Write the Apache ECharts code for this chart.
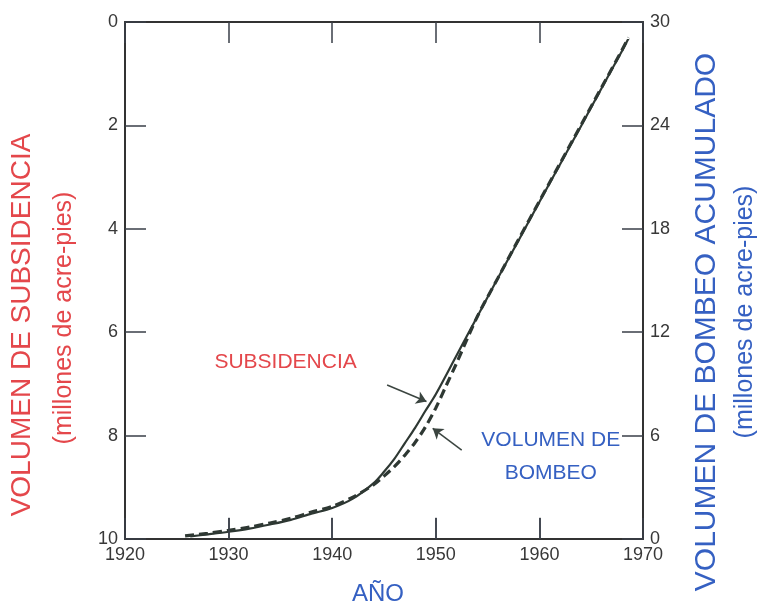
<!DOCTYPE html>
<html>
<head>
<meta charset="utf-8">
<script src="https://cdn.jsdelivr.net/npm/echarts@6/dist/echarts.min.js"></script>
<style>
  html, body { margin: 0; padding: 0; background: #fff; }
  #chart { width: 760px; height: 609px; }
</style>
</head>
<body>
<div id="chart"></div>
<script>
// años (eje X)
var xTicks = [1920, 1930, 1940, 1950, 1960, 1970];
var leftTicks = [0, 2, 4, 6, 8, 10];
var rightTicks = [0, 6, 12, 18, 24, 30];

// subsidencia (millones de acre-pies, eje izquierdo invertido)
var subsYears = [1926.3, 1928, 1930, 1932, 1934, 1936, 1938, 1940, 1942, 1944, 1945, 1946, 1947, 1948, 1949, 1950, 1952, 1954, 1956, 1958, 1960, 1962, 1964, 1966, 1968, 1968.6];
var subsValues = [9.95, 9.91, 9.86, 9.8, 9.72, 9.63, 9.51, 9.4, 9.22, 8.92, 8.7, 8.45, 8.15, 7.85, 7.52, 7.2, 6.45, 5.7, 4.95, 4.22, 3.48, 2.75, 2.02, 1.28, 0.55, 0.32];

// bombeo acumulado (millones de acre-pies, eje derecho)
var pumpYears = [1925.8, 1928, 1930, 1932, 1934, 1936, 1938, 1940, 1942, 1944, 1945, 1946, 1947, 1948, 1949, 1950, 1951, 1952, 1954, 1956, 1958, 1960, 1962, 1964, 1966, 1968, 1968.6];
var pumpValues = [0.18, 0.33, 0.5, 0.69, 0.93, 1.2, 1.56, 1.89, 2.43, 3.15, 3.65, 4.2, 4.85, 5.6, 6.5, 7.6, 8.9, 10.2, 12.9, 15.15, 17.4, 19.6, 21.8, 24.0, 26.2, 28.4, 29.1];

var RED = '#e4474b';
var BLUE = '#3560c2';
var INK = '#2e3833';
var FONT = 'Liberation Sans';

function pairs(xs, ys) {
  return xs.map(function (x, i) { return [x, ys[i]]; });
}

var chart = echarts.init(document.getElementById('chart'));

function ticks() {
  return { show: true, inside: true, length: 21, lineStyle: { color: '#3a3f48', width: 1.5 } };
}
function axisLine() {
  return { show: true, onZero: false, lineStyle: { color: '#333', width: 2 } };
}
function labels(extra) {
  return Object.assign({ color: '#383838', fontSize: 18, fontFamily: FONT, margin: 7 }, extra || {});
}

// marcas interiores del eje inferior (no se dibujan con axisTick aquí)
var bottomTickLines = xTicks.slice(1, -1).map(function (yr) {
  return [
    { coord: [yr, 10], symbol: 'none', lineStyle: { color: '#3a3f48', width: 1.5, type: 'solid' } },
    { coord: [yr, 9.59], symbol: 'none' }
  ];
});

var option = {
  animation: false,
  backgroundColor: '#fff',
  grid: { left: 125, right: 117, top: 22, bottom: 70 },
  xAxis: [
    {
      type: 'value', min: 1920, max: 1970, interval: 10, position: 'top',
      axisLine: axisLine(), axisTick: ticks(), splitLine: { show: false },
      axisLabel: { show: false }
    },
    {
      type: 'value', min: 1920, max: 1970, interval: 10, position: 'bottom',
      axisLine: axisLine(), axisTick: ticks(), splitLine: { show: false },
      axisLabel: labels({ formatter: function (v) { return String(v); } })
    }
  ],
  yAxis: [
    {
      type: 'value', min: 0, max: 10, interval: 2, inverse: true, position: 'left',
      axisLine: axisLine(), axisTick: ticks(), splitLine: { show: false },
      axisLabel: labels()
    },
    {
      type: 'value', min: 0, max: 30, interval: 6, position: 'right',
      axisLine: axisLine(), axisTick: ticks(), splitLine: { show: false },
      axisLabel: labels()
    }
  ],
  series: [
    {
      name: 'SUBSIDENCIA',
      type: 'line', xAxisIndex: 1, yAxisIndex: 0,
      smooth: 0.3, showSymbol: false,
      lineStyle: { color: INK, width: 2.2 },
      data: pairs(subsYears, subsValues),
      markPoint: {
        symbol: 'circle', symbolSize: 0, silent: true,
        label: { show: true, position: 'inside', fontFamily: FONT, fontSize: 21 },
        data: [
          { coord: [1935.5, 6.58], label: { formatter: 'SUBSIDENCIA', color: RED } },
          { coord: [1961.1, 8.08], label: { formatter: 'VOLUMEN DE', color: BLUE } },
          { coord: [1961.1, 8.72], label: { formatter: 'BOMBEO', color: BLUE } }
        ]
      },
      markLine: {
        silent: true,
        symbol: ['none', 'arrow'], symbolSize: 10,
        lineStyle: { color: '#3b4540', width: 1.5, type: 'solid' },
        label: { show: false },
        data: [
          [{ coord: [1945.3, 7.02] }, { coord: [1949.1, 7.34] }],
          [{ coord: [1952.5, 8.28] }, { coord: [1949.7, 7.86] }]
        ].concat(bottomTickLines)
      }
    },
    {
      name: 'VOLUMEN DE BOMBEO',
      type: 'line', xAxisIndex: 1, yAxisIndex: 1,
      smooth: 0.3, showSymbol: false,
      lineStyle: { color: INK, width: 3.2, type: [9, 5] },
      data: pairs(pumpYears, pumpValues)
    }
  ],
  graphic: [
    { type: 'text', x: 22, y: 325, rotation: Math.PI / 2,
      style: { text: 'VOLUMEN DE SUBSIDENCIA', fill: RED, font: '28px "Liberation Sans"', textAlign: 'center', textVerticalAlign: 'middle' } },
    { type: 'text', x: 64, y: 318, rotation: Math.PI / 2,
      style: { text: '(millones de acre-pies)', fill: RED, font: '25px "Liberation Sans"', textAlign: 'center', textVerticalAlign: 'middle' } },
    { type: 'text', x: 707, y: 322, rotation: Math.PI / 2,
      style: { text: 'VOLUMEN DE BOMBEO ACUMULADO', fill: BLUE, font: '30px "Liberation Sans"', textAlign: 'center', textVerticalAlign: 'middle' } },
    { type: 'text', x: 745, y: 312, rotation: Math.PI / 2,
      style: { text: '(millones de acre-pies)', fill: BLUE, font: '25px "Liberation Sans"', textAlign: 'center', textVerticalAlign: 'middle' } },
    { type: 'text', x: 378, y: 594,
      style: { text: 'AÑO', fill: BLUE, font: '24px "Liberation Sans"', textAlign: 'center', textVerticalAlign: 'middle' } }
  ]
};

chart.setOption(option);
</script>
</body>
</html>
